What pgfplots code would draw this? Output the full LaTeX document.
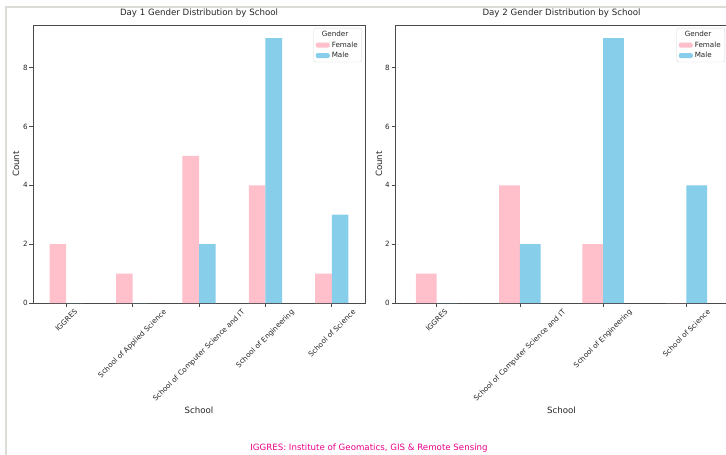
\documentclass[border=0pt]{standalone}
\usepackage{fontspec}
\setmainfont{DejaVu Sans}
\usepackage{graphicx}
\usepackage{pgfplots}
\pgfplotsset{compat=1.18}
\definecolor{pinkc}{HTML}{FFC0CB}
\definecolor{bluec}{HTML}{87CEEB}
\definecolor{framec}{HTML}{DCDCD6}
\definecolor{spinec}{HTML}{4A4A4A}
\definecolor{txtc}{HTML}{262626}
\newcommand{\ts}{\fontsize{7.2bp}{8.6bp}\selectfont}
\newcommand{\tm}{\fontsize{8.65bp}{10bp}\selectfont}
\newcommand{\tl}[1]{\rotatebox{45}{#1}}
\pgfplotsset{
  myaxis/.style={
    scale only axis, height=278bp,
    ybar, enlargelimits=false,
    ymin=0, ymax=9.45, ytick={0,2,4,6,8},
    tick align=outside, tick pos=left,
    major tick length=3.5bp,
    tick style={spinec, line width=0.7bp},
    axis line style={spinec, line width=0.8bp},
    ticklabel style={font=\ts, text=txtc},
    /pgf/number format/assume math mode=true,
    yticklabel style={inner sep=1.5bp},
    xticklabel style={anchor=north, inner sep=0pt, yshift=-2bp},
    title style={font=\tm, text=txtc, at={(axis description cs:0.5,1.0144)}, anchor=base},
    xlabel style={font=\tm, text=txtc, at={(axis description cs:0.5,-0.385)}, anchor=center},
    ylabel style={font=\tm, text=txtc, anchor=center},
    xlabel={School}, ylabel={Count},
    legend cell align=left,
    legend image code/.code={\fill[##1] (0bp,-2.5bp) rectangle (14bp,2.5bp);},
    legend style={at={(axis description cs:1,1)}, anchor=north east, xshift=-3bp, yshift=-3bp,
      draw=black!15, rounded corners=2bp, font=\ts, text=txtc, fill=white,
      inner xsep=2bp, inner ysep=1bp, row sep=-0.5bp},
  }
}
\begin{document}
\begin{tikzpicture}
\fill[white] (-33bp,-152bp) rectangle (693bp,303bp);
\draw[framec, line width=1.3bp] (-27bp,-152bp) -- (-27bp,296bp) -- (693bp,296bp);

\begin{axis}[myaxis, width=332bp,
  xmin=-0.5, xmax=4.5, xtick={0,1,2,3,4},
  xticklabels={\tl{IGGRES}, \tl{School of Applied Science}, \tl{School of Computer Science and IT}, \tl{School of Engineering}, \tl{School of Science}},
  ylabel style={at={(axis description cs:-0.0512,0.5)}},
  title={Day 1 Gender Distribution by School}]
\addlegendimage{empty legend}
\addplot[fill=pinkc, draw=none, bar width=0.25, bar shift=-0.125] coordinates {(0,2) (1,1) (2,5) (3,4) (4,1)};
\addplot[fill=bluec, draw=none, bar width=0.25, bar shift=0.125] coordinates {(0,0) (1,0) (2,2) (3,9) (4,3)};
\legend{\hspace*{-10bp}Gender, Female, Male}
\end{axis}

\begin{scope}[xshift=362bp]
\begin{axis}[myaxis, width=333bp,
  xmin=-0.5, xmax=3.5, xtick={0,1,2,3},
  xticklabels={\tl{IGGRES}, \tl{School of Computer Science and IT}, \tl{School of Engineering}, \tl{School of Science}},
  ylabel style={at={(axis description cs:-0.048,0.5)}},
  title={Day 2 Gender Distribution by School}]
\addlegendimage{empty legend}
\addplot[fill=pinkc, draw=none, bar width=0.25, bar shift=-0.125] coordinates {(0,1) (1,4) (2,2) (3,0)};
\addplot[fill=bluec, draw=none, bar width=0.25, bar shift=0.125] coordinates {(0,0) (1,2) (2,9) (3,4)};
\legend{\hspace*{-10bp}Gender, Female, Male}
\end{axis}
\end{scope}

\node[font=\tm, text=magenta, anchor=base] at (336bp,-147bp) {IGGRES: Institute of Geomatics, GIS \& Remote Sensing};
\pgfresetboundingbox
\path[use as bounding box] (-33bp,-152bp) rectangle (693bp,303bp);
\end{tikzpicture}
\end{document}
